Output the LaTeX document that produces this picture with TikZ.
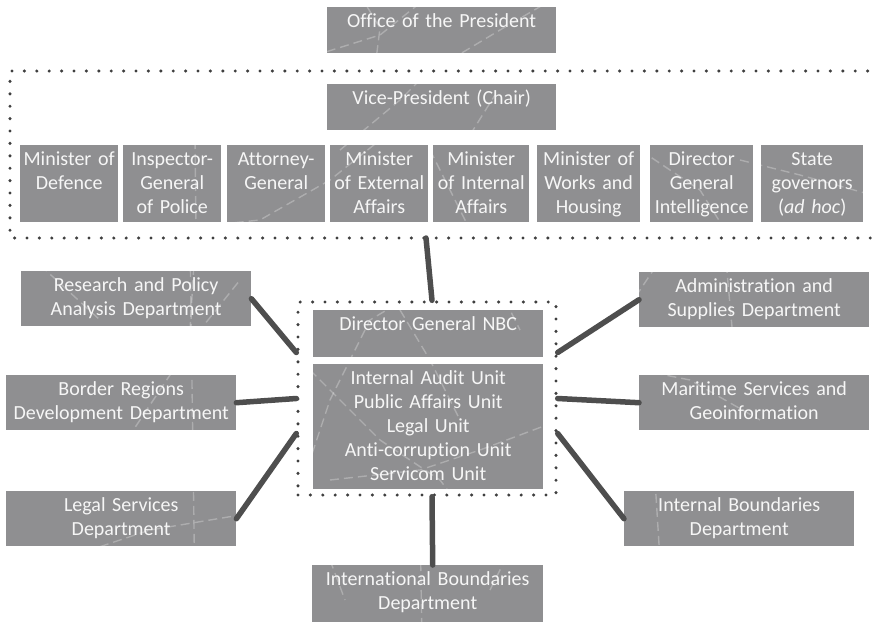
\documentclass[tikz,border=0pt]{standalone}
\usepackage{fontspec}
\setmainfont{Carlito}[Ligatures=NoCommon]
\usepackage{tikz}
\definecolor{unitgray}{HTML}{8F8F91}
\definecolor{unittext}{HTML}{F6F6F6}
\definecolor{linkgray}{HTML}{4E4E4E}
\definecolor{framegray}{HTML}{3F3F3F}

\begin{document}
\begin{tikzpicture}[x=1pt,y=-1pt]
	\tikzstyle{unit}=[fill=unitgray,text=unittext,align=center,inner sep=0pt,anchor=north west,font=\fontsize{20}{24}\selectfont,text height=20pt]
	\tikzstyle{minister}=[unit,text depth=57pt]
	\tikzstyle{dept}=[unit,text width=230pt,text depth=35pt]
	\tikzstyle{dotframe}=[draw=framegray,line width=3.4pt,line cap=round,dash pattern=on 0pt off 12.4pt]
	\tikzstyle{texture}=[draw=white,opacity=0.27,line width=1.4pt,dash pattern=on 9pt off 5pt]
	\tikzstyle{link}=[draw=linkgray,line width=5.5pt,line cap=round]
	\useasboundingbox (0,0) rectangle (872,624);
	% presidency and council
	\node[unit,text width=229pt,text depth=26pt](office) at (327,7) {Office of the President};
	\node[unit,text width=229pt,text depth=26pt](vice) at (327,84) {Vice-President (Chair)};
	\node[minister,text width=98pt](defence) at (20,145) {Minister of\\Defence};
	\node[minister,text width=98pt](police) at (123,145) {Inspector-\\General\\of Police};
	\node[minister,text width=98pt](attorney) at (227,145) {Attorney-\\General};
	\node[minister,text width=98pt](external) at (330,145) {Minister\\of External\\Affairs};
	\node[minister,text width=96pt](internal) at (433,145) {Minister\\of Internal\\Affairs};
	\node[minister,text width=103pt](works) at (537,145) {Minister of\\Works and\\Housing};
	\node[minister,text width=103pt](intelligence) at (650,145) {Director\\General\\Intelligence};
	\node[minister,text width=102pt](governors) at (761,145) {State\\governors\\(\textit{ad hoc})};
	% NBC
	\node[unit,text width=230pt,text depth=27pt](dg) at (313,310) {Director General NBC};
	\node[unit,text width=230pt,text depth=105pt](units) at (313,364) {Internal Audit Unit\\Public Affairs Unit\\Legal Unit\\Anti-corruption Unit\\Servicom Unit};
	\node[dotframe,minimum width=258pt,minimum height=193pt,inner sep=0pt](nbcframe) at (427,398.5) {};
	% departments
	\node[dept](research) at (21,271) {Research and Policy\\Analysis Department};
	\node[dept](border) at (6,375) {Border Regions\\Development Department};
	\node[dept](legal) at (6,491) {Legal Services\\Department};
	\node[dept](admin) at (639,272) {Administration and\\Supplies Department};
	\node[dept](maritime) at (639,375) {Maritime Services and\\Geoinformation};
	\node[dept](intbound) at (624,491) {Internal Boundaries\\Department};
	\node[dept,text width=231pt,text depth=37pt](intlbound) at (312,565) {International Boundaries\\Department};
	% map texture
	\draw[texture] (300,60) -- (380,35) -- (430,-5);
	\draw[texture] (360,-5) -- (380,28) -- (376,60);
	\draw[texture] (450,60) -- (500,30) -- (560,-5);
	\draw[texture] (340,150) -- (400,100) -- (430,70);
	\draw[texture] (470,135) -- (495,95);
	\draw[texture] (0,260) -- (120,235) -- (260,220) -- (330,180) -- (380,140);
	\draw[texture] (195,140) -- (196,230) -- (190,330);
	\draw[texture] (430,150) -- (470,230) -- (520,330);
	\draw[texture] (290,520) -- (330,400) -- (370,320) -- (420,290);
	\draw[texture] (300,360) -- (380,440) -- (440,480) -- (470,520);
	\draw[texture] (330,480) -- (420,470) -- (480,450) -- (560,420);
	\draw[texture] (400,310) -- (430,360) -- (460,420);
	\draw[texture] (190,240) -- (195,600);
	\draw[texture] (60,560) -- (150,530) -- (240,515) -- (300,510);
	\draw[texture] (120,450) -- (160,390) -- (200,330) -- (240,280);
	\draw[texture] (40,265) -- (100,320);
	\draw[texture] (620,320) -- (660,260);
	\draw[texture] (725,250) -- (735,360);
	\draw[texture] (640,370) -- (690,380) -- (760,420);
	\draw[texture] (655,480) -- (660,560);
	\draw[texture] (640,150) -- (700,190) -- (720,222);
	\draw[texture] (740,160) -- (800,175) -- (872,195);
	\draw[texture] (330,560) -- (345,600);
	\draw[texture] (420,520) -- (422,640);
	\draw[texture] (490,590) -- (505,560);
	% council frame, open to the right
	\draw[dotframe] (880,71) -- (10,71) -- (10,238) -- (880,238);
	\coordinate (councilfoot) at (426,238);
	% links
	\draw[link] (councilfoot) -- ([xshift=5pt]nbcframe.north);
	\draw[link] ([xshift=5pt]nbcframe.south) -- ([xshift=5pt]intlbound.north);
	\draw[link] (research.east) -- ([yshift=46pt]nbcframe.west);
	\draw[link] (border.east) -- (nbcframe.west);
	\draw[link] (legal.east) -- ([yshift=-35pt]nbcframe.west);
	\draw[link] (admin.west) -- ([yshift=46pt]nbcframe.east);
	\draw[link] (maritime.west) -- (nbcframe.east);
	\draw[link] (intbound.west) -- ([yshift=-35pt]nbcframe.east);
\end{tikzpicture}
\end{document}
